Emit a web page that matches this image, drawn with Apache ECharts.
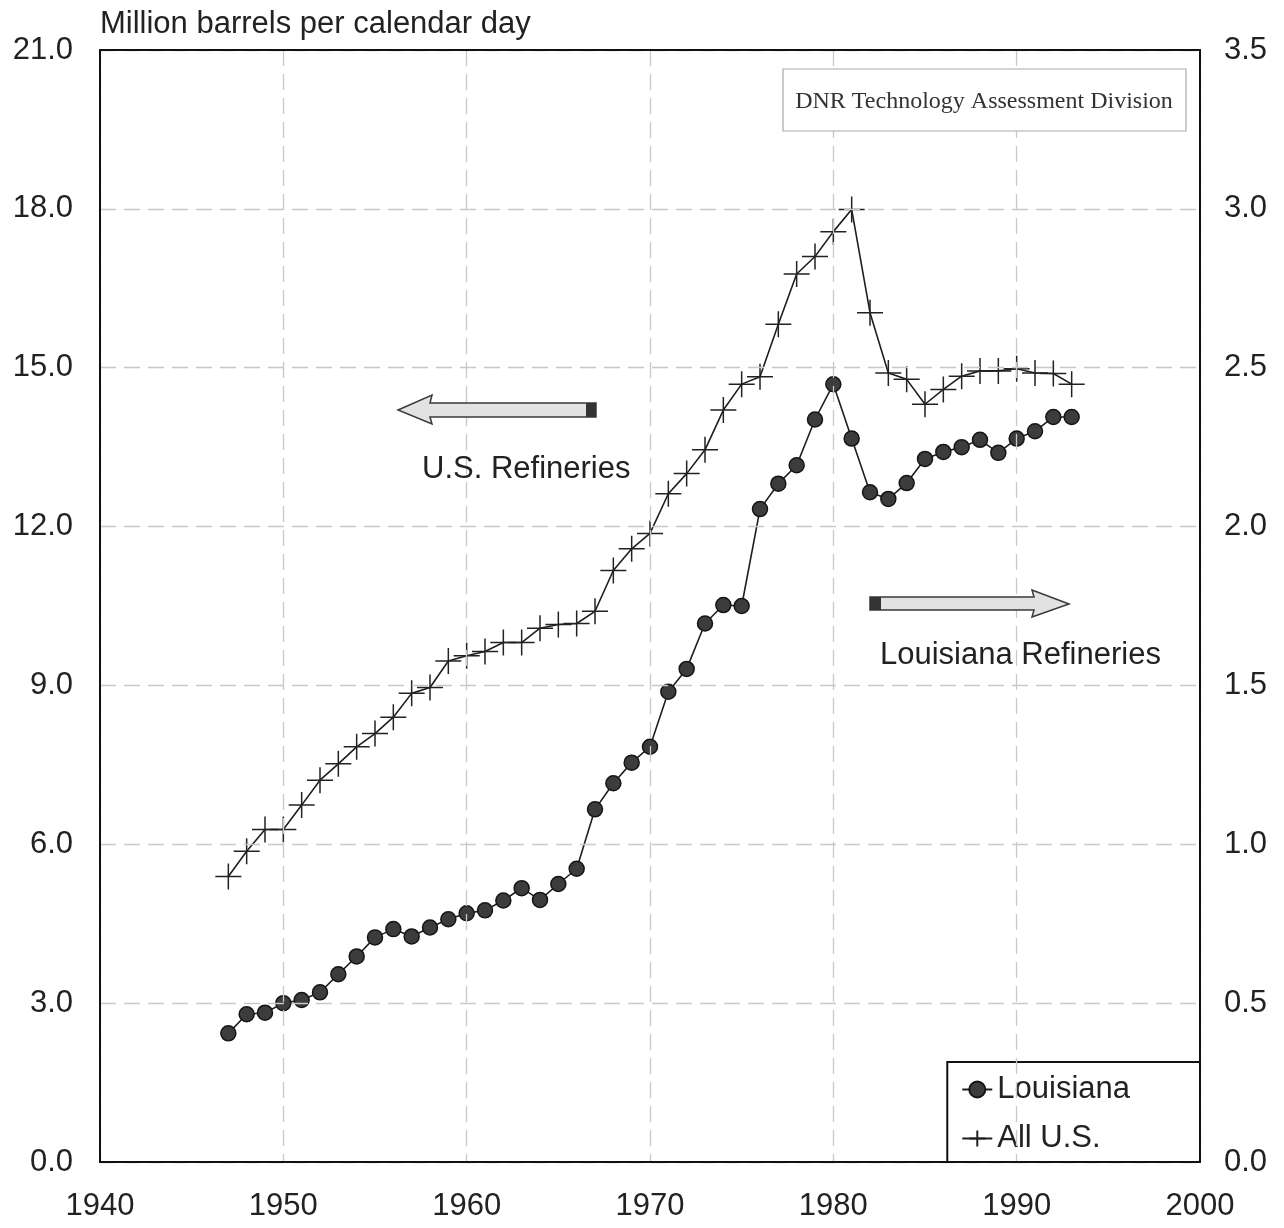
<!DOCTYPE html>
<html>
<head>
<meta charset="utf-8">
<script src="https://cdn.jsdelivr.net/npm/echarts@6/dist/echarts.min.js"></script>
<style>
html,body{margin:0;padding:0;background:#fff;}
#chart{width:1284px;height:1228px;}
</style>
</head>
<body>
<div id="chart"></div>
<script>
// ---- Data ----
const years = [1947,1948,1949,1950,1951,1952,1953,1954,1955,1956,1957,1958,1959,1960,
  1961,1962,1963,1964,1965,1966,1967,1968,1969,1970,1971,1972,1973,1974,1975,1976,
  1977,1978,1979,1980,1981,1982,1983,1984,1985,1986,1987,1988,1989,1990,1991,1992,1993];

// All U.S. refinery capacity, million barrels per calendar day (left axis)
const usCapacity = [5.39,5.87,6.28,6.28,6.74,7.21,7.52,7.84,8.09,8.40,8.85,8.96,9.46,9.56,
  9.64,9.81,9.81,10.08,10.15,10.17,10.40,11.17,11.58,11.87,12.62,13.00,13.45,14.20,14.69,14.83,
  15.82,16.77,17.10,17.57,17.99,16.04,14.90,14.78,14.31,14.59,14.84,14.94,14.94,14.98,14.90,14.89,14.69];

// Louisiana refinery capacity, million barrels per calendar day (right axis)
const laCapacity = [0.405,0.465,0.470,0.500,0.510,0.534,0.591,0.647,0.707,0.733,0.710,0.738,0.764,0.783,
  0.792,0.823,0.862,0.825,0.875,0.923,1.110,1.192,1.257,1.307,1.480,1.552,1.695,1.753,1.750,2.055,
  2.135,2.193,2.337,2.448,2.277,2.108,2.087,2.137,2.213,2.235,2.250,2.273,2.232,2.277,2.300,2.345,2.345];

const xTicks = [1940,1950,1960,1970,1980,1990,2000];
const leftTicks = [0,3,6,9,12,15,18,21];
const rightTicks = [0,0.5,1.0,1.5,2.0,2.5,3.0,3.5];

const titleText = 'Million barrels per calendar day';
const sourceText = 'DNR Technology Assessment Division';
const usLabel = 'U.S. Refineries';
const laLabel = 'Louisiana Refineries';
const seriesNames = ['Louisiana', 'All U.S.'];

// ---- Chart ----
const FONT = '"Liberation Sans", Arial, Helvetica, sans-serif';
const chart = echarts.init(document.getElementById('chart'), null, {renderer: 'canvas'});

const usPts = years.map((y, i) => [y, usCapacity[i]]);
const laPts = years.map((y, i) => [y, laCapacity[i]]);

const gridDash = {color: '#c8c8c8', width: 1.3, type: [16, 8]};
const frameLine = {show: true, onZero: false, lineStyle: {color: '#111', width: 2}};

const option = {
  animation: false,
  backgroundColor: '#fff',
  grid: {left: 100, right: 84, top: 50, bottom: 66, show: false},
  xAxis: [{
    type: 'value', min: xTicks[0], max: xTicks[xTicks.length - 1], interval: 10,
    position: 'bottom',
    axisLine: frameLine,
    axisTick: {show: false},
    axisLabel: {fontSize: 31, color: '#222', fontFamily: FONT, margin: 29, formatter: v => String(v)},
    splitLine: {show: true, lineStyle: gridDash},
    z: 5
  }, {
    type: 'value', min: xTicks[0], max: xTicks[xTicks.length - 1], interval: 10,
    position: 'top',
    axisLine: frameLine,
    axisTick: {show: false},
    axisLabel: {show: false},
    splitLine: {show: false},
    z: 5
  }],
  yAxis: [{
    type: 'value', min: leftTicks[0], max: leftTicks[leftTicks.length - 1], interval: 3,
    position: 'left',
    axisLine: frameLine,
    axisTick: {show: false},
    axisLabel: {fontSize: 31, color: '#222', fontFamily: FONT, margin: 27, formatter: v => v.toFixed(1)},
    splitLine: {show: true, lineStyle: gridDash},
    z: 5
  }, {
    type: 'value', min: rightTicks[0], max: rightTicks[rightTicks.length - 1], interval: 0.5,
    position: 'right',
    axisLine: frameLine,
    axisTick: {show: false},
    axisLabel: {fontSize: 31, color: '#222', fontFamily: FONT, margin: 24, formatter: v => v.toFixed(1)},
    splitLine: {show: false},
    z: 5
  }],
  legend: {
    orient: 'vertical',
    right: 84, bottom: 66,
    backgroundColor: '#fff',
    borderColor: '#111', borderWidth: 2, borderRadius: 0,
    padding: [12, 70, 8, 14],
    itemGap: 18,
    itemWidth: 30, itemHeight: 20,
    textStyle: {fontSize: 31, color: '#222', fontFamily: FONT},
    data: seriesNames
  },
  series: [{
    name: seriesNames[0],
    type: 'line',
    xAxisIndex: 0,
    yAxisIndex: 1,
    data: laPts,
    symbol: 'circle', symbolSize: 15,
    showSymbol: true, showAllSymbol: true,
    lineStyle: {color: '#1e1e1e', width: 1.6},
    itemStyle: {color: '#3c3c3c', borderColor: '#151515', borderWidth: 1.5},
    z: 3
  }, {
    name: seriesNames[1],
    type: 'line',
    xAxisIndex: 0,
    yAxisIndex: 0,
    data: usPts,
    symbol: 'path://M0,12H24M12,0V24', symbolSize: 26,
    showSymbol: true, showAllSymbol: true,
    lineStyle: {color: '#1e1e1e', width: 1.6},
    itemStyle: {color: '#222', borderColor: '#222', borderWidth: 1.5},
    z: 3
  }],
  graphic: [
    // axis title
    {type: 'text', left: 100, top: 9, style: {text: titleText, font: '31px ' + FONT, fill: '#222'}},
    // source box
    {type: 'rect', shape: {x: 783, y: 69, width: 403, height: 62}, style: {fill: '#fff', stroke: '#aaa', lineWidth: 1.2}, z: 10},
    {type: 'text', x: 984, y: 102, style: {text: sourceText, font: '24px "Liberation Serif", "Times New Roman", serif', fill: '#333', align: 'center', verticalAlign: 'middle'}, z: 11},
    // U.S. arrow (pointing left)
    {type: 'polygon', shape: {points: [[398,410],[432,395],[430,403],[596,403],[596,417],[430,417],[432,424]]},
      style: {fill: '#e2e2e2', stroke: '#3a3a3a', lineWidth: 1.5}, z: 10},
    {type: 'rect', shape: {x: 586, y: 403, width: 10, height: 14}, style: {fill: '#333'}, z: 11},
    {type: 'text', left: 422, top: 454, style: {text: usLabel, font: '31px ' + FONT, fill: '#222'}, z: 11},
    // Louisiana arrow (pointing right)
    {type: 'polygon', shape: {points: [[1069,604],[1032,590],[1034,597],[870,597],[870,610],[1034,610],[1032,617]]},
      style: {fill: '#e2e2e2', stroke: '#3a3a3a', lineWidth: 1.5}, z: 10},
    {type: 'rect', shape: {x: 870, y: 597, width: 11, height: 13}, style: {fill: '#333'}, z: 11},
    {type: 'text', left: 880, top: 640, style: {text: laLabel, font: '31px ' + FONT, fill: '#222'}, z: 11}
  ]
};

chart.setOption(option);
</script>
</body>
</html>
